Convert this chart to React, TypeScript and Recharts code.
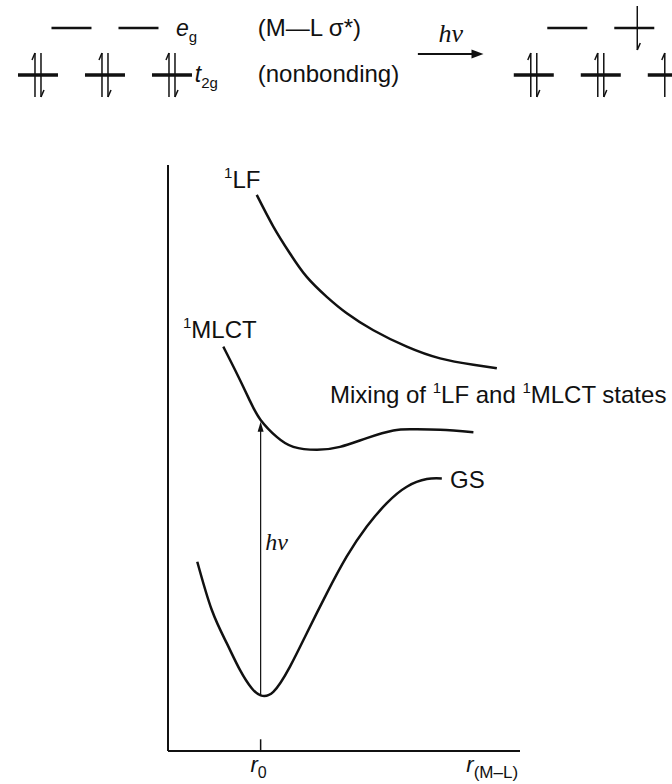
import React from 'react';
import { ComposedChart, Line, XAxis, YAxis, Scatter, ReferenceLine, ReferenceDot } from 'recharts';

// ---------- Orbital diagram (top) ----------
// slot = horizontal orbital position, level: 0 = t2g, 1 = eg
const orbitalSlot = [0, 1, 2, 0.5, 1.5, 7.4, 8.4, 9.4, 7.9, 8.9];
const orbitalLevel = [0, 0, 0, 1, 1, 0, 0, 0, 1, 1];
const spinUp = [1, 1, 1, 0, 0, 1, 1, 1, 0, 0];
const spinDown = [1, 1, 1, 0, 0, 1, 1, 0, 0, 1];

const orbitals = orbitalSlot.map((s, i) => ({
  slot: s,
  level: orbitalLevel[i],
  up: spinUp[i],
  down: spinDown[i],
}));

// ---------- Potential energy curves ----------
const gsR = [0.316, 0.472, 0.634, 0.778, 0.904, 1.0, 1.137, 1.317, 1.498, 1.714, 1.93, 2.146, 2.362, 2.578, 2.794, 2.956];
const gsE = [3.23, 2.41, 1.84, 1.38, 1.07, 0.95, 1.01, 1.44, 2.01, 2.69, 3.32, 3.83, 4.23, 4.51, 4.64, 4.65];

const mlctR = [0.597, 0.756, 0.886, 1.0, 1.174, 1.353, 1.606, 1.857, 2.146, 2.433, 2.649, 2.937, 3.297];
const mlctE = [6.9, 6.4, 5.97, 5.65, 5.36, 5.19, 5.14, 5.19, 5.34, 5.47, 5.49, 5.48, 5.44];

const lfR = [0.958, 1.137, 1.317, 1.498, 1.714, 1.93, 2.217, 2.578, 2.937, 3.297, 3.55];
const lfE = [9.49, 8.95, 8.49, 8.09, 7.75, 7.47, 7.18, 6.9, 6.7, 6.59, 6.53];

const xTicks = [1, 3.5];
const r0 = 1;
const excitationTop = 5.62;

const toPoints = (rs: number[], es: number[]) => rs.map((r, i) => ({ r, e: es[i] }));
const gsData = toPoints(gsR, gsE);
const mlctData = toPoints(mlctR, mlctE);
const lfData = toPoints(lfR, lfE);

const SANS = '"Liberation Sans", Arial, Helvetica, sans-serif';
const SERIF = '"Liberation Serif", "Times New Roman", serif';
const INK = '#111';

const OrbitalShape = (props: any) => {
  const { cx, cy, payload } = props;
  if (cx == null || cy == null) return null;
  const half = 20;
  const thick = payload.level === 0 ? 3.5 : 2.5;
  const len = 22;
  return (
    <g>
      <line x1={cx - half} x2={cx + half} y1={cy} y2={cy} stroke={INK} strokeWidth={thick} />
      {payload.up ? (
        <g stroke={INK} strokeWidth={1.5} fill="none">
          <line x1={cx - 3} x2={cx - 3} y1={cy + len} y2={cy - len} />
          <line x1={cx - 3} x2={cx - 6} y1={cy - len} y2={cy - len + 7} />
        </g>
      ) : null}
      {payload.down ? (
        <g stroke={INK} strokeWidth={1.5} fill="none">
          <line x1={cx + 3} x2={cx + 3} y1={cy - len} y2={cy + len} />
          <line x1={cx + 3} x2={cx + 6} y1={cy + len} y2={cy + len - 7} />
        </g>
      ) : null}
    </g>
  );
};

const textShape = (content: React.ReactNode, opts: any = {}) => (p: any) => (
  <text
    x={p.cx}
    y={p.cy}
    dy={opts.dy ?? 0}
    textAnchor={opts.anchor ?? 'start'}
    fontFamily={opts.family ?? SANS}
    fontSize={opts.size ?? 24}
    fontStyle={opts.italic ? 'italic' : 'normal'}
    fill={INK}
  >
    {content}
  </text>
);

// superscript "1" followed by text returned to the baseline
const sup1 = (after: string) => (
  <>
    <tspan fontSize={15} dy={-10}>1</tspan>
    <tspan dy={10}>{after}</tspan>
  </>
);

const AxisTick = (props: any) => {
  const { x, y, payload } = props;
  if (payload.value === xTicks[0]) {
    return (
      <text x={x - 2} y={y + 13} textAnchor="middle" fontFamily={SANS} fontSize={22} fill={INK}>
        <tspan fontStyle="italic">r</tspan>
        <tspan fontSize={16} dy={6}>0</tspan>
      </text>
    );
  }
  return (
    <text x={x} y={y + 13} textAnchor="middle" fontFamily={SANS} fontSize={22} fill={INK}>
      <tspan fontStyle="italic">r</tspan>
      <tspan fontSize={17} dy={6}>(M–L)</tspan>
    </text>
  );
};

const ArrowUp = (p: any) => (
  <polygon points={`${p.cx},${p.cy} ${p.cx - 3},${p.cy + 10} ${p.cx + 3},${p.cy + 10}`} fill={INK} />
);
const ArrowRight = (p: any) => (
  <polygon points={`${p.cx + 10},${p.cy} ${p.cx - 2},${p.cy - 4.5} ${p.cx - 2},${p.cy + 4.5}`} fill={INK} />
);

export default function App() {
  return (
    <div style={{ position: 'absolute', left: 0, top: 0, width: 672, height: 784, background: '#fff', overflow: 'hidden' }}>
      <div style={{ position: 'absolute', left: 0, top: 0 }}>
        <ComposedChart width={672} height={110} margin={{ top: 0, right: 0, bottom: 0, left: 0 }}>
          <XAxis type="number" dataKey="slot" domain={[-0.567, 9.463]} hide allowDataOverflow />
          <YAxis type="number" dataKey="level" domain={[-0.745, 1.596]} hide allowDataOverflow />
          <Scatter data={orbitals} dataKey="level" shape={OrbitalShape} isAnimationActive={false} />
          <ReferenceDot x={2.06} y={1} ifOverflow="visible" shape={textShape(
            <>
              <tspan fontStyle="italic" fontSize={23}>e</tspan>
              <tspan fontSize={15} dy={6}>g</tspan>
            </>, { dy: 8 })} />
          <ReferenceDot x={3.28} y={1} ifOverflow="visible" shape={textShape('(M—L σ*)', { dy: 8 })} />
          <ReferenceDot x={2.34} y={0} ifOverflow="visible" shape={textShape(
            <>
              <tspan fontStyle="italic" fontSize={23}>t</tspan>
              <tspan fontSize={15} dy={6}>2g</tspan>
            </>, { dy: 7 })} />
          <ReferenceDot x={3.28} y={0} ifOverflow="visible" shape={textShape('(nonbonding)', { dy: 7 })} />
          <ReferenceLine segment={[{ x: 5.67, y: 0.447 }, { x: 6.55, y: 0.447 }]} stroke={INK} strokeWidth={2} />
          <ReferenceDot x={6.5} y={0.447} ifOverflow="visible" shape={ArrowRight} />
          <ReferenceDot x={6.16} y={0.7} ifOverflow="visible" shape={textShape('hν', { anchor: 'middle', italic: true, family: SERIF, size: 26 })} />
        </ComposedChart>
      </div>
      <div style={{ position: 'absolute', left: 0, top: 110 }}>
        <ComposedChart width={672} height={674} margin={{ top: 55, right: 152, bottom: 3, left: 158 }}>
          <XAxis
            type="number"
            dataKey="r"
            domain={[0, 3.8]}
            ticks={xTicks}
            tick={AxisTick}
            tickLine={false}
            axisLine={{ stroke: INK, strokeWidth: 2 }}
            height={30}
            allowDataOverflow
          />
          <YAxis
            type="number"
            dataKey="e"
            domain={[0, 10]}
            tick={false}
            tickLine={false}
            axisLine={{ stroke: INK, strokeWidth: 2 }}
            width={10}
            allowDataOverflow
          />
          <Line data={lfData} dataKey="e" type="natural" dot={false} stroke={INK} strokeWidth={2.5} isAnimationActive={false} />
          <Line data={mlctData} dataKey="e" type="natural" dot={false} stroke={INK} strokeWidth={2.5} isAnimationActive={false} />
          <Line data={gsData} dataKey="e" type="natural" dot={false} stroke={INK} strokeWidth={2.5} isAnimationActive={false} />
          <ReferenceLine segment={[{ x: r0, y: 0 }, { x: r0, y: 0.2 }]} stroke={INK} strokeWidth={1.5} />
          <ReferenceLine segment={[{ x: r0, y: 0.95 }, { x: r0, y: excitationTop - 0.1 }]} stroke={INK} strokeWidth={1.2} />
          <ReferenceDot x={r0} y={excitationTop} ifOverflow="visible" shape={ArrowUp} />
          <ReferenceDot x={0.605} y={9.61} ifOverflow="visible" shape={textShape(sup1('LF'))} />
          <ReferenceDot x={0.162} y={7.05} ifOverflow="visible" shape={textShape(sup1('MLCT'))} />
          <ReferenceDot x={1.749} y={5.94} ifOverflow="visible" shape={textShape(
            <>
              <tspan>Mixing of </tspan>
              {sup1('LF and ')}
              {sup1('MLCT states')}
            </>)} />
          <ReferenceDot x={3.045} y={4.49} ifOverflow="visible" shape={textShape('GS')} />
          <ReferenceDot x={1.05} y={3.43} ifOverflow="visible" shape={textShape('hν', { italic: true, family: SERIF, size: 24 })} />
        </ComposedChart>
      </div>
    </div>
  );
}
